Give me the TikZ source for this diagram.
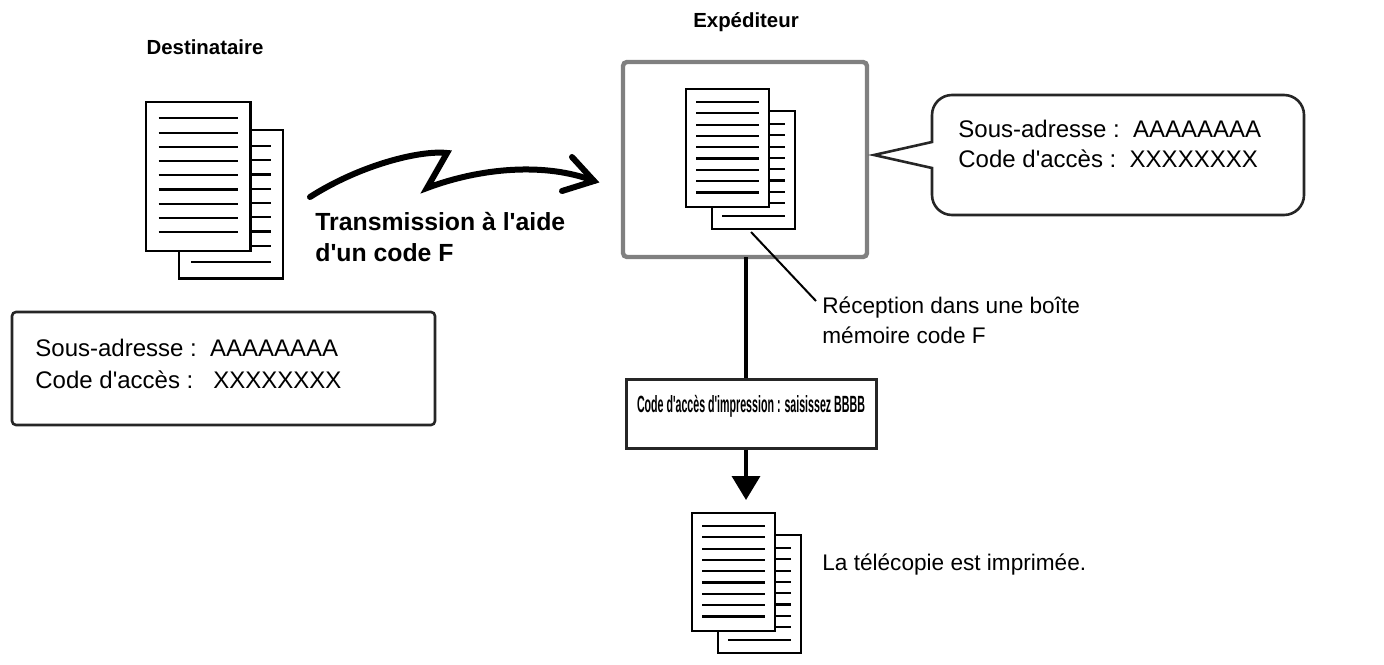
\documentclass[tikz,border=0pt]{standalone}
\usepackage{fontspec}
\setmainfont{Liberation Sans}
\usetikzlibrary{arrows.meta}
\newcommand\ap{\textquotesingle}
\begin{document}
\begin{tikzpicture}[x=0.5pt,y=-0.5pt,
  txt/.style={font=\fontsize{12}{15}\selectfont,inner sep=0pt,align=left},
  stxt/.style={font=\fontsize{11.3}{15}\selectfont,inner sep=0pt,align=left},
  ttl/.style={font=\fontsize{10.2}{15.5}\selectfont\bfseries,inner sep=0pt},
  btxt/.style={font=\fontsize{12.4}{15.5}\selectfont\bfseries,inner sep=0pt,align=left},
  box/.style={draw=black!85,line width=1.3pt,rounded corners=2pt},
  pg/.style={draw=black,fill=white,line width=1.1pt},
  ln/.style={line width=1.1pt},
  pics/doc/.style={code={
    \draw[pg] (26,22) rectangle (109,140);
    \foreach \k in {0,...,7}{\draw[ln] (83,35+\k*11.3) -- (99,35+\k*11.3);}
    \draw[ln] (36,127) -- (99,127);
    \draw[pg] (0,0) rectangle (83,118);
    \foreach \k in {0,...,8}{\draw[ln] (10,13+\k*11.3) -- (73,13+\k*11.3);}
  }}]
\useasboundingbox (0,0) rectangle (1384,664);
% titles
\node[ttl] (t1) at (205,47) {Destinataire};
\node[ttl] (t2) at (746,22) {Expéditeur};
% left doc
\pic[scale=1.26] (d1) at (146,102) {doc};
% arrow
\coordinate (a0) at (310,197);
\coordinate (a1) at (447,153);
\coordinate (a2) at (427,188);
\coordinate (a3) at (594,181);
\coordinate (h1) at (572,157);
\coordinate (h2) at (562,191);
\draw[line width=3pt,line cap=round,line join=miter] (a0) .. controls (360,165) and (420,150) .. (a1) -- (a2) .. controls (480,168) and (545,162) .. (a3);
\draw[line width=3pt,line cap=round] (h1) -- (a3) -- (h2);
\node[btxt,anchor=north west] (tr) at (315,212) {Transmission à l\ap aide\\d\ap un code F};
% left info box
\draw[box] (12,312) rectangle (435,425);
\node[txt,anchor=west] (l1) at (35,348) {Sous-adresse :\ \ AAAAAAAA};
\node[txt,anchor=west] (l2) at (35,380) {Code d\ap accès :\ \ \ XXXXXXXX};
% sender frame
\draw[draw=black!50,line width=2.2pt,rounded corners=2pt] (623,62) rectangle (867,257);
\coordinate (fb) at (746,257);
\pic (d2) at (686,89) {doc};
% callout
\draw[draw=black!85,line width=1.3pt] (932,142) [rounded corners=10pt] -- (932,95) -- (1304,95) -- (1304,215) -- (932,215) [sharp corners] -- (932,168) -- (874,155) -- cycle;
\node[txt,anchor=west] (c1) at (958,129) {Sous-adresse :\ \ AAAAAAAA};
\node[txt,anchor=west] (c2) at (958,159) {Code d\ap accès :\ \ XXXXXXXX};
% leader
\coordinate (r0) at (751,232);
\coordinate (r1) at (816,301);
\draw[line width=1pt] (r0) -- (r1);
\node[stxt,anchor=north west] (rc) at (822,296) {Réception dans une boîte\\mémoire code F};
% code box
\node[draw=black!85,line width=1.3pt,minimum width=250*0.5pt,minimum height=69*0.5pt,inner sep=0pt,anchor=north west] (cb) at (625,378) {};
\node[inner sep=0pt] (cbt) at (751,406) {\resizebox{114pt}{8.6pt}{\fontsize{9}{11}\selectfont\bfseries Code d\ap accès d\ap impression : saisissez BBBB}};
\draw[line width=1.8pt] (fb) -- (cb.north -| fb);
\coordinate (at) at (746,500);
\draw[line width=1.8pt,-{Triangle[length=12pt,width=14pt]}] (cb.south -| fb) -- (at);
% bottom doc
\pic (d3) at (692,513) {doc};
\node[stxt,anchor=west] (lt) at (822,565) {La télécopie est imprimée.};
\end{tikzpicture}
\end{document}
